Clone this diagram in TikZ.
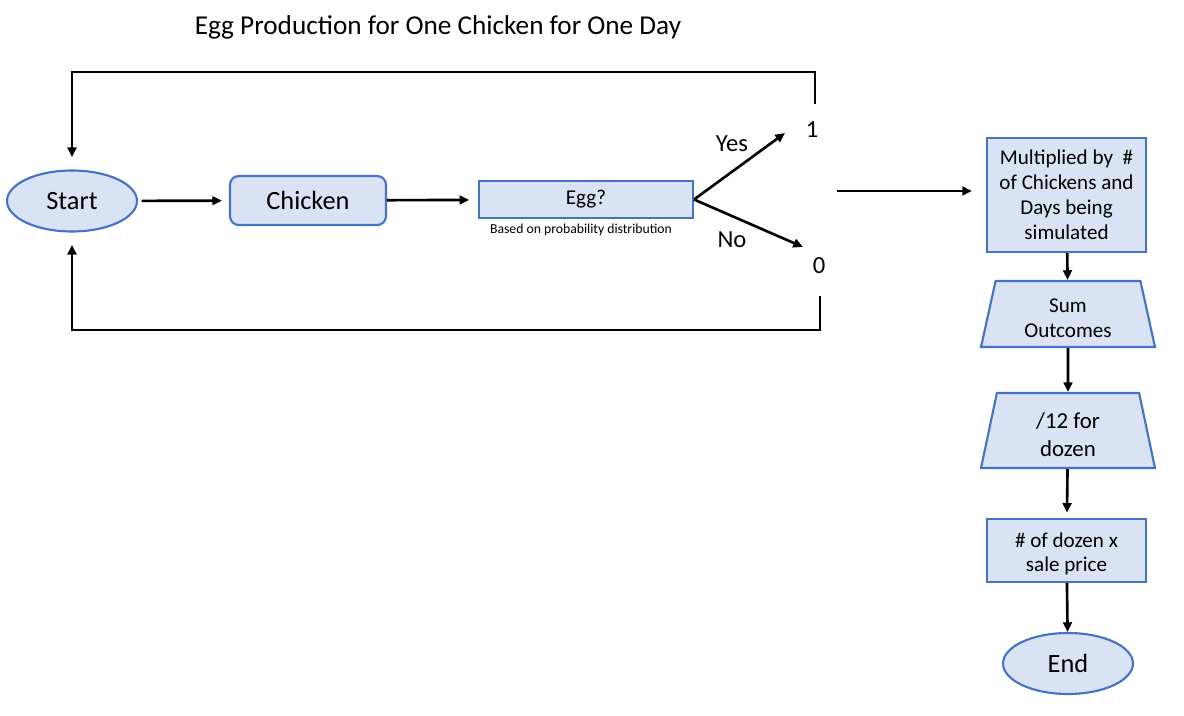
\documentclass[tikz,border=0pt]{standalone}
\usepackage{fontspec}
\setmainfont{Carlito}
\usetikzlibrary{shapes.geometric, arrows.meta, positioning}
\definecolor{boxfill}{RGB}{218,227,243}
\definecolor{boxline}{RGB}{68,114,196}

\begin{document}
\begin{tikzpicture}[
    x=0.02cm, y=-0.02cm,
    terminal/.style={ellipse, draw=boxline, line width=1.2pt, fill=boxfill, minimum width=2.6cm, minimum height=1.22cm, font=\fontsize{15}{18}\selectfont},
    process/.style={draw=boxline, line width=1.2pt, fill=boxfill, align=center, font=\fontsize{12}{14.2}\selectfont},
    manual/.style={trapezium, trapezium left angle=76, trapezium right angle=76, trapezium stretches body, draw=boxline, line width=1.2pt, fill=boxfill, align=center, minimum width=3.48cm},
    answer/.style={font=\fontsize{14}{16}\selectfont},
    arrow/.style={-{Triangle[length=5.5pt, width=5pt]}, line width=1.5pt}
]
    \useasboundingbox (0,0) rectangle (1184,716);

    % Title
    \node[font=\fontsize{15.5}{18}\selectfont] (title) at (438,27) {Egg Production for One Chicken for One Day};

    % One chicken, one day
    \node[terminal] (start) at (72,201) {Start};
    \node[process, rounded corners=5pt, minimum width=3.12cm, minimum height=0.98cm, font=\fontsize{15}{18}\selectfont] (chicken) at (308,200.5) {Chicken};
    \node[process, minimum width=4.28cm, minimum height=0.74cm] (egg) at (586,199.5) {Egg?};
    \node[font=\fontsize{7.8}{9}\selectfont] (egginfo) at (581,230) {Based on probability distribution};
    \node[answer] (yes) at (732,144) {Yes};
    \node[answer] (no) at (732,240) {No};
    \node[answer] (one) at (812,130) {1};
    \node[answer] (zero) at (819,266) {0};
    \coordinate (yestip) at (785,133);
    \coordinate (notip) at (803,247);
    \coordinate (topout) at (815,104);
    \coordinate (botout) at (820,296);
    \coordinate (midout) at (837,191);

    % Scaling up
    \node[process, minimum width=3.18cm, minimum height=2.28cm] (multiply) at (1066.5,195) {Multiplied by\ \ \#\\of Chickens and\\Days being\\simulated};
    \node[manual, minimum height=1.32cm, text height=26.5pt, font=\fontsize{12}{14.2}\selectfont] (sum) at (1068,314) {Sum\\Outcomes};
    \node[manual, minimum height=1.5cm, text height=29.5pt, font=\fontsize{13}{16}\selectfont] (dozen) at (1068,430.5) {/12 for\\dozen};
    \node[process, minimum width=3.18cm, minimum height=1.26cm, text height=25.5pt, font=\fontsize{12}{13.5}\selectfont] (price) at (1066.5,550.5) {\# of dozen x\\sale price};
    \node[terminal] (end) at (1068,663.5) {End};

    % Flow
    \draw[arrow, shorten <=2pt, shorten >=4pt] (start) -- (chicken);
    \draw[arrow, shorten >=5pt] (chicken) -- (egg);
    \draw[arrow] (egg.east) -- (yestip);
    \draw[arrow] (egg.east) -- (notip);
    \draw[arrow, shorten >=7pt] (topout) -- ++(0,-32) -| (start.north);
    \draw[arrow, shorten >=7pt] (botout) -- ++(0,34) -| (start.south);
    \draw[arrow, shorten >=8pt] (midout) -- (multiply.west |- midout);
    \draw[arrow] (multiply) -- (sum);
    \draw[arrow] (sum) -- (dozen);
    \draw[arrow, shorten >=3pt] (dozen) -- (price);
    \draw[arrow] (price) -- (end);
\end{tikzpicture}
\end{document}
